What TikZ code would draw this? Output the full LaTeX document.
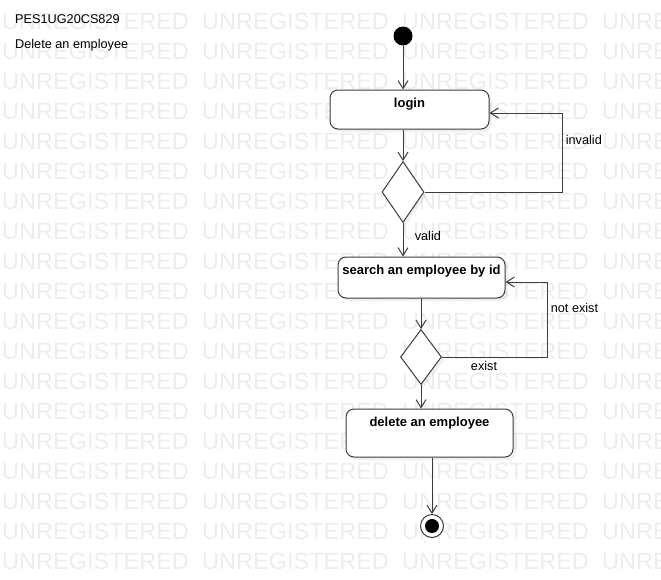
\documentclass[tikz,border=0pt]{standalone}
\usepackage{fontspec}
\setmainfont{Liberation Sans}
\usetikzlibrary{arrows.meta,shapes.geometric,shadows}
\definecolor{umlline}{HTML}{3C3C3C}
\definecolor{wmark}{HTML}{EDEDED}
\tikzset{
  watermark/.style={text=wmark, anchor=base west, inner sep=0pt, font=\fontsize{23.5}{26}\selectfont},
  action/.style={draw=umlline, line width=1pt, rounded corners=8pt, fill=white, inner sep=0pt,
    drop shadow={opacity=0.12, shadow xshift=3pt, shadow yshift=-3pt}},
  acttext/.style={label={[anchor=north, yshift=-5pt, font=\fontsize{13}{15}\selectfont\bfseries]north:#1}},
  choice/.style={diamond, draw=umlline, line width=1pt, fill=white, inner sep=0pt,
    drop shadow={opacity=0.12, shadow xshift=3pt, shadow yshift=-3pt}},
  initial/.style={circle, fill=black, minimum size=19pt, inner sep=0pt},
  final/.style={circle, draw=umlline, line width=1pt, fill=white, minimum size=23pt, inner sep=0pt,
    path picture={\fill[black] (path picture bounding box.center) circle (7pt);}},
  flow/.style={draw=umlline, line width=1pt, -{Straight Barb[length=8pt,width=10pt]}},
  title/.style={anchor=west, inner sep=0pt},
}
\begin{document}
\begin{tikzpicture}[x=1pt, y=-1pt, font=\fontsize{12.7}{15}\selectfont]
  \useasboundingbox (0,0) rectangle (661,579);
  \foreach \r in {0,...,18}
    \foreach \c in {0,...,3}
      \node[watermark] at (2+200*\c, 29+30*\r) {UNREGISTERED};

  \node[title] (code) at (15,19) {PES1UG20CS829};
  \node[title] (name) at (15,45) {Delete an employee};

  \node[initial] (start) at (403,36) {};
  \node[action, minimum width=159pt, minimum height=39pt, acttext={login}] (login) at (409.5,109.5) {};
  \node[choice, minimum width=42pt, minimum height=61pt] (d1) at (403,192) {};
  \node[action, minimum width=167pt, minimum height=41pt, acttext={search an employee by id}] (search) at (421.5,277.5) {};
  \node[choice, minimum width=41pt, minimum height=55pt] (d2) at (421,357) {};
  \node[action, minimum width=167pt, minimum height=48pt, acttext={delete an employee}] (delete) at (429.5,433) {};
  \node[final] (end) at (432,526) {};

  \coordinate (back1) at (562,113);
  \coordinate (back2) at (547,282);

  \draw[flow] (start) -- (start |- login.north);
  \draw[flow] (login.south -| d1.north) -- (d1.north);
  \draw[flow] (d1.south) -- node[pos=0.4, right=8pt] {valid} (d1.south |- search.north);
  \draw[flow] (d1.east) -- (d1.east -| back1) -- node[pos=0.66, right] {invalid} (back1) -- (back1 -| login.east);
  \draw[flow] (search.south -| d2.north) -- (d2.north);
  \draw[flow] (d2.east) -- node[pos=0.4, below] {exist} (d2.east -| back2) -- node[pos=0.65, right] {not exist} (back2) -- (back2 -| search.east);
  \draw[flow] (d2.south) -- (d2.south |- delete.north);
  \draw[flow] (delete.south -| end.north) -- (end);
\end{tikzpicture}
\end{document}
